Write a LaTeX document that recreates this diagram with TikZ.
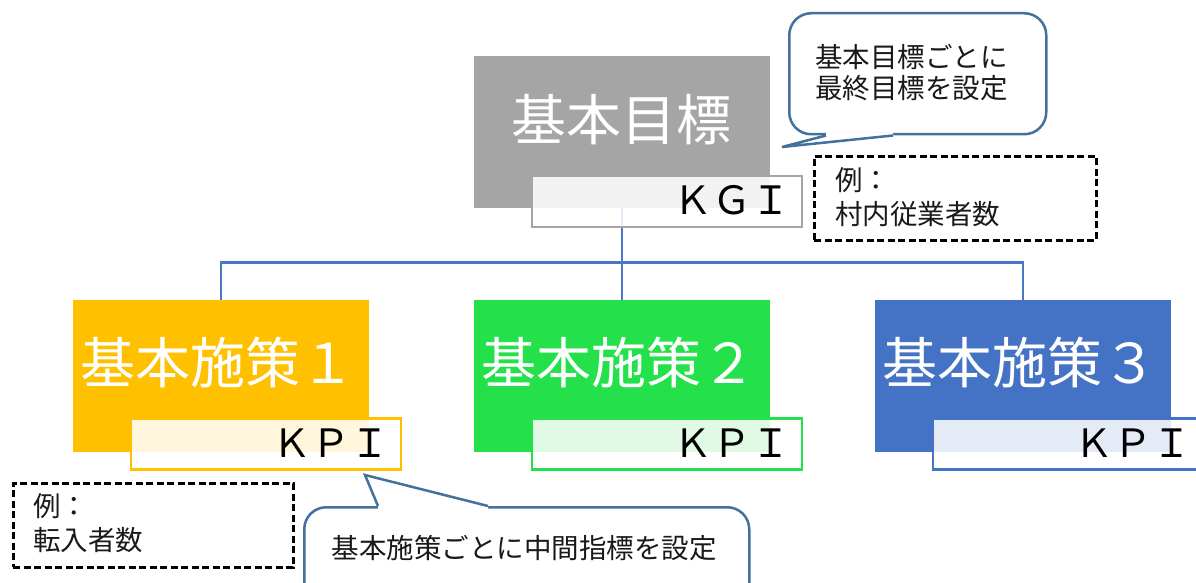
\documentclass[tikz,border=0pt]{standalone}
\usepackage{fontspec}
\setmainfont{Noto Sans CJK JP}
\usetikzlibrary{calc}
\definecolor{grayfill}{HTML}{A5A5A5}
\definecolor{orangefill}{HTML}{FFC000}
\definecolor{greenfill}{HTML}{24E14B}
\definecolor{bluefill}{HTML}{4472C4}
\definecolor{connc}{HTML}{4A76C6}
\definecolor{callc}{HTML}{41719C}
\tikzset{
  mainbox/.style={rectangle, minimum width=296pt, minimum height=152pt, inner sep=0pt, draw=none},
  bigtext/.style={text=white, font=\fontsize{55}{60}\selectfont, inner sep=0pt},
  kpibox/.style={rectangle, minimum width=270pt, minimum height=51pt, fill=white, fill opacity=0.86, line width=2.7pt, inner sep=0pt},
  kpitext/.style={font=\fontsize{39}{44}\selectfont, inner sep=0pt, anchor=east, text=black},
  connline/.style={draw=connc, line width=2.7pt},
  callbox/.style={draw=callc, fill=white, line width=2.5pt, rounded corners=22pt, inner sep=0pt, anchor=north west},
  calltail/.style={draw=callc, line width=2.5pt, line join=miter},
  ctext/.style={font=\fontsize{27.5}{31}\selectfont, inner sep=0pt, text=black!90, align=left},
  dashbox/.style={draw=black, dash pattern=on 7pt off 3.5pt, line width=2.6pt, inner sep=0pt, anchor=north west},
  dtext/.style={font=\fontsize{27.5}{34}\selectfont, inner sep=0pt, text=black!90, align=left, anchor=west},
}
\begin{document}
\begin{tikzpicture}[x=1pt,y=-1pt]
\useasboundingbox (0,0) rectangle (1196,583);
\clip (0,0) rectangle (1196,583);

% main boxes
\node[mainbox, fill=grayfill] (g) at (622,132) {};
\node[mainbox, fill=orangefill] (b1) at (221,376) {};
\node[mainbox, fill=greenfill] (b2) at (622,376) {};
\node[mainbox, fill=bluefill] (b3) at (1023,376) {};

% connectors
\coordinate (hub) at ($(g.south)+(0,54)$);
\draw[connline] (g.south) -- (hub);
\draw[connline] (b1.north) |- (hub) -| (b3.north);
\draw[connline] (hub) -- (b2.north);

% titles
\node[bigtext] (gt) at ($(g.center)+(-1,-12)$) {基本目標};
\node[bigtext] (t1) at ($(b1.center)+(-3,-13)$) {基本施策１};
\node[bigtext] (t2) at ($(b2.center)+(-3,-13)$) {基本施策２};
\node[bigtext] (t3) at ($(b3.center)+(-3,-13)$) {基本施策３};

% KGI / KPI boxes
\node[kpibox, draw=grayfill] (kg) at (667,201.5) {};
\node[kpibox, draw=orangefill] (k1) at (266,444) {};
\node[kpibox, draw=greenfill] (k2) at (667,444) {};
\node[kpibox, draw=bluefill] (k3) at (1068,444) {};
\node[kpitext] (kgt) at ($(kg.east)+(-13,-1)$) {ＫＧＩ};
\node[kpitext] (k1t) at ($(k1.east)+(-13,-1)$) {ＫＰＩ};
\node[kpitext] (k2t) at ($(k2.east)+(-13,-1)$) {ＫＰＩ};
\node[kpitext] (k3t) at ($(k3.east)+(-13,-1)$) {ＫＰＩ};

% callout 1
\node[callbox, minimum width=257pt, minimum height=121pt] (c1) at (788,12) {};
\fill[white] ($(c1.south west)+(38,0)$) -- (782,147) -- ($(c1.south west)+(105,0)$) -- ($(c1.south west)+(105,-3)$) -- ($(c1.south west)+(38,-3)$) -- cycle;
\draw[calltail] ($(c1.south west)+(38,0)$) -- (782,147) -- ($(c1.south west)+(105,0)$);
\node[ctext, anchor=west] (c1t) at (815,73) {基本目標ごとに\\最終目標を設定};

% callout 2
\node[callbox, minimum width=445pt, minimum height=110pt] (c2) at (303,506) {};
\fill[white] ($(c2.north west)+(75,0)$) -- (365,475) -- ($(c2.north west)+(185,0)$) -- ($(c2.north west)+(185,3)$) -- ($(c2.north west)+(75,3)$) -- cycle;
\draw[calltail] ($(c2.north west)+(75,0)$) -- (365,475) -- ($(c2.north west)+(185,0)$);
\node[ctext] (c2t) at (524,548) {基本施策ごとに中間指標を設定};

% example boxes
\node[dashbox, minimum width=282pt, minimum height=84pt] (d1) at (813,155) {};
\node[dtext] (d1t) at (835,197) {例：\\村内従業者数};
\node[dashbox, minimum width=280pt, minimum height=84pt] (d2) at (12,482) {};
\node[dtext] (d2t) at (33,523) {例：\\転入者数};
\end{tikzpicture}
\end{document}
